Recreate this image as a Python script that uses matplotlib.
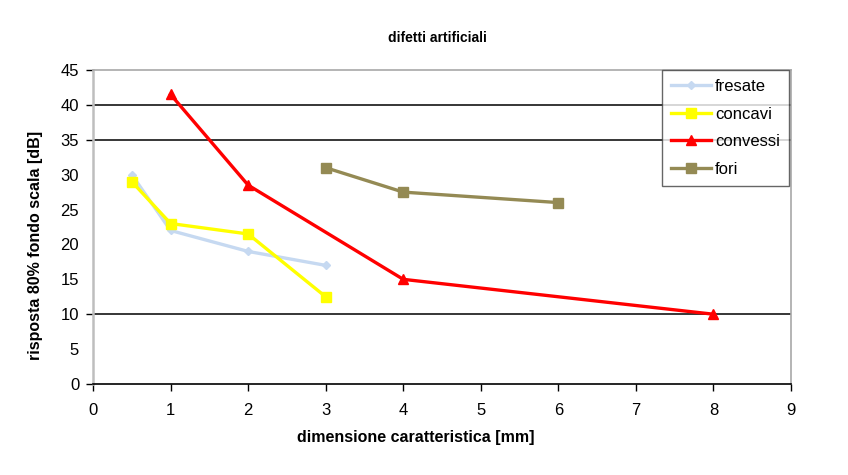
import matplotlib
matplotlib.use("Agg")
import matplotlib.pyplot as plt

plt.rcParams['font.family'] = ['Liberation Sans', 'DejaVu Sans']

title = "difetti artificiali"
xlabel = "dimensione caratteristica [mm]"
ylabel = "risposta 80% fondo scala [dB]"

fresate_x = [0.5, 1, 2, 3]
fresate_y = [30, 22, 19, 17]
concavi_x = [0.5, 1, 2, 3]
concavi_y = [29, 23, 21.5, 12.5]
convessi_x = [1, 2, 4, 8]
convessi_y = [41.5, 28.5, 15, 10]
fori_x = [3, 4, 6]
fori_y = [31, 27.5, 26]

x_ticks = list(range(0, 10))
y_ticks = list(range(0, 50, 5))
visible_grid = [10, 35, 40]
visible_yticks = [0, 10, 35, 40, 45]

fig = plt.figure(figsize=(8.48, 4.75), dpi=100)
ax = fig.add_axes([0.1097, 0.1916, 0.8231, 0.661])

for yv in visible_grid:
    ax.axhline(yv, color='black', lw=1.1, zorder=1)

lw = 2.4
ax.plot(fresate_x, fresate_y, color='#C6D9F1', lw=lw, marker='D', ms=4.5,
        label='fresate', zorder=3)
ax.plot(concavi_x, concavi_y, color='#FFFF00', lw=lw, marker='s', ms=6.5,
        label='concavi', zorder=4)
ax.plot(convessi_x, convessi_y, color='#FF0000', lw=lw, marker='^', ms=7,
        label='convessi', zorder=5)
ax.plot(fori_x, fori_y, color='#948A54', lw=lw, marker='s', ms=6.5,
        label='fori', zorder=3)

ax.set_xlim(0, 9)
ax.set_ylim(0, 45)
ax.set_xticks(x_ticks)
ax.set_yticks(y_ticks)
ax.tick_params(axis='both', labelsize=12, direction='out', length=5,
               width=1, color='black')
ax.tick_params(axis='x', pad=9)
ax.tick_params(axis='y', pad=5)
for t, v in zip(ax.yaxis.get_major_ticks(), y_ticks):
    if v not in visible_yticks:
        t.tick1line.set_visible(False)

for s in ['top', 'right']:
    ax.spines[s].set_color('#A8A8A8')
    ax.spines[s].set_linewidth(1.2)
ax.spines['left'].set_color('#BEBEBE')
ax.spines['left'].set_linewidth(1.8)
ax.spines['bottom'].set_color('black')
ax.spines['bottom'].set_linewidth(1.2)

fig.text(0.490, 0.078, xlabel, fontsize=11.5, fontweight='bold', ha='center', va='center')
fig.text(0.042, 0.484, ylabel, fontsize=11.5, fontweight='bold', ha='center', va='center',
         rotation=90)
fig.text(0.516, 0.92, title, fontsize=10, fontweight='bold', ha='center', va='center')

leg = ax.legend(loc='upper right', bbox_to_anchor=(0.9975, 1.0), fontsize=12,
                frameon=True, fancybox=False, borderpad=0.55, labelspacing=0.75,
                handlelength=2.4, handletextpad=0.25, borderaxespad=0)
leg.get_frame().set_edgecolor('#404040')
leg.get_frame().set_linewidth(1.0)
leg.set_zorder(10)

fig.savefig('out.png', dpi=100)
